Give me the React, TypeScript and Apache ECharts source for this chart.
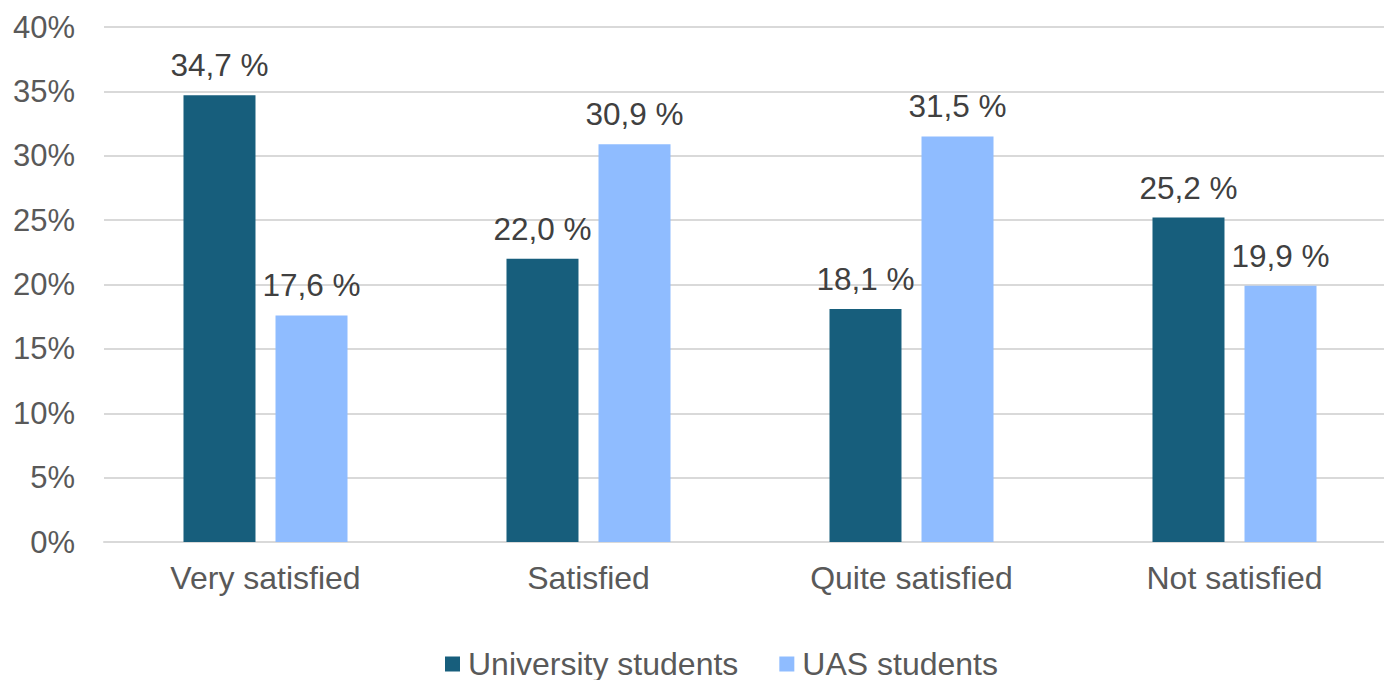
import React, { useEffect, useRef } from "react";
import * as echarts from "echarts";

const categories = ["Very satisfied", "Satisfied", "Quite satisfied", "Not satisfied"];
const universityStudents = [34.7, 22.0, 18.1, 25.2];
const uasStudents = [17.6, 30.9, 31.5, 19.9];
const seriesNames = ["University students", "UAS students"];

const FONT = "'Liberation Sans', Arial, sans-serif";
const TEXT = "#595959";

export default function App() {
  const ref = useRef<HTMLDivElement>(null);
  useEffect(() => {
    document.body.style.margin = "0";
    const chart = echarts.init(ref.current!, null, { renderer: "svg" });
    const fmt = (p: any) => Number(p.value).toFixed(1).replace(".", ",") + " %";
    chart.setOption({
      animation: false,
      textStyle: { fontFamily: FONT },
      grid: { left: 104, width: 1292, top: 27, bottom: 138, outerBoundsMode: "none" },
      legend: {
        bottom: -5,
        left: 440,
        itemWidth: 15,
        itemHeight: 15,
        itemGap: 41,
        icon: "rect",
        textStyle: { fontSize: 32, color: TEXT, fontFamily: FONT, padding: [0, 0, 0, 3] },
        data: seriesNames,
      },
      xAxis: {
        type: "category",
        data: categories,
        axisLine: { lineStyle: { color: "#d9d9d9", width: 2 } },
        axisTick: { show: false },
        axisLabel: { fontSize: 32, color: TEXT, margin: 20, fontFamily: FONT },
      },
      yAxis: {
        type: "value",
        min: 0,
        max: 40,
        interval: 5,
        axisLine: { show: false },
        axisTick: { show: false },
        axisLabel: { formatter: "{value}%", fontSize: 31, color: TEXT, margin: 29, fontFamily: FONT },
        splitLine: { lineStyle: { color: "#d9d9d9", width: 2 } },
      },
      series: [
        {
          name: seriesNames[0],
          type: "bar",
          data: universityStudents,
          barWidth: 72,
          barGap: "27.8%",
          itemStyle: { color: "#175E7C" },
          label: { show: true, position: "top", distance: 14, formatter: fmt, fontSize: 31.5, color: "#404040", fontFamily: FONT },
        },
        {
          name: seriesNames[1],
          type: "bar",
          data: uasStudents,
          barWidth: 72,
          barGap: "27.8%",
          itemStyle: { color: "#8FBCFF" },
          label: { show: true, position: "top", distance: 14, formatter: fmt, fontSize: 31.5, color: "#404040", fontFamily: FONT },
        },
      ],
    });
    return () => chart.dispose();
  }, []);
  return <div ref={ref} style={{ width: 1384, height: 680 }} />;
}
